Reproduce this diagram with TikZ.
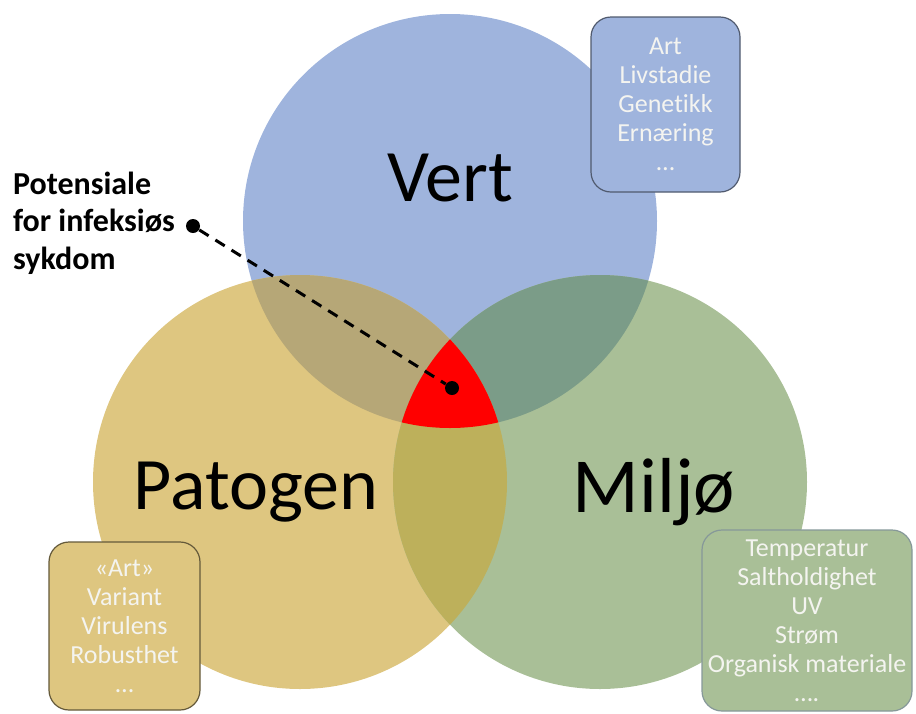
\documentclass[tikz,border=0pt]{standalone}
\usepackage{fontspec}
\setmainfont{Carlito}[Ligatures=NoCommon]
\usetikzlibrary{positioning}

\definecolor{vertblue}{HTML}{9FB4DD}
\definecolor{patgold}{HTML}{DEC680}
\definecolor{miljgreen}{HTML}{A9BF97}
\definecolor{vpmix}{HTML}{B6A777}
\definecolor{vmmix}{HTML}{7B9C88}
\definecolor{pmmix}{HTML}{BDB05B}
\definecolor{boxtext}{HTML}{F4F4F0}

\begin{document}
\begin{tikzpicture}[
  x=0.5pt, y=-0.5pt,
  bigword/.style={font=\fontsize{37}{44}\selectfont, text=black},
  infobox/.style={draw, line width=0.6pt, rounded corners=10pt, align=center, inner sep=0pt, text=boxtext, font=\fontsize{13}{14.5}\selectfont},
  dot/.style={circle, fill=black, inner sep=0pt, minimum size=7pt},
  pointer/.style={line width=1.5pt, dash pattern=on 5.5pt off 4pt}
]
\useasboundingbox (0,0) rectangle (916,713);

\coordinate (vc) at (450,221);
\coordinate (pc) at (300,482);
\coordinate (mc) at (600,482);

% circles
\fill[vertblue] (vc) circle[radius=103.5pt];
\fill[patgold] (pc) circle[radius=103.5pt];
\fill[miljgreen] (mc) circle[radius=103.5pt];

% overlaps
\begin{scope}
  \clip (vc) circle[radius=103.5pt];
  \fill[vpmix] (pc) circle[radius=103.5pt];
  \fill[vmmix] (mc) circle[radius=103.5pt];
\end{scope}
\begin{scope}
  \clip (pc) circle[radius=103.5pt];
  \fill[pmmix] (mc) circle[radius=103.5pt];
\end{scope}
\begin{scope}
  \clip (vc) circle[radius=103.5pt];
  \clip (pc) circle[radius=103.5pt];
  \fill[red] (mc) circle[radius=103.5pt];
\end{scope}

\node[bigword] (vert) at (450,178) {Vert};
\node[bigword] (patogen) at (256,492) {Patogen};
\node[bigword, font=\fontsize{39}{46}\selectfont] (miljo) at (654,492) {Miljø};

\node[infobox, fill=vertblue, draw=black!50!vertblue, minimum width=74.5pt, minimum height=87.5pt] (vertbox) at (665.5,104.5) {Art\\Livstadie\\Genetikk\\Ernæring\\…};
\node[infobox, fill=patgold, draw=black!55!patgold, minimum width=75.5pt, minimum height=84pt] (patbox) at (124.5,626) {«Art»\\Variant\\Virulens\\Robusthet\\…};
\node[infobox, fill=miljgreen, draw=black!30!vertblue!60!miljgreen, minimum width=105pt, minimum height=90.5pt] (miljbox) at (807,620.5) {Temperatur\\Saltholdighet\\UV\\Strøm\\Organisk materiale\\….};

\node[anchor=west, align=left, font=\bfseries\fontsize{16}{18.75}\selectfont] (label) at (6,223) {Potensiale\\for infeksiøs\\sykdom};
\node[dot] (start) at (193,226) {};
\node[dot] (core) at (452,388) {};
\draw[pointer] (start) -- (core);
\end{tikzpicture}
\end{document}
